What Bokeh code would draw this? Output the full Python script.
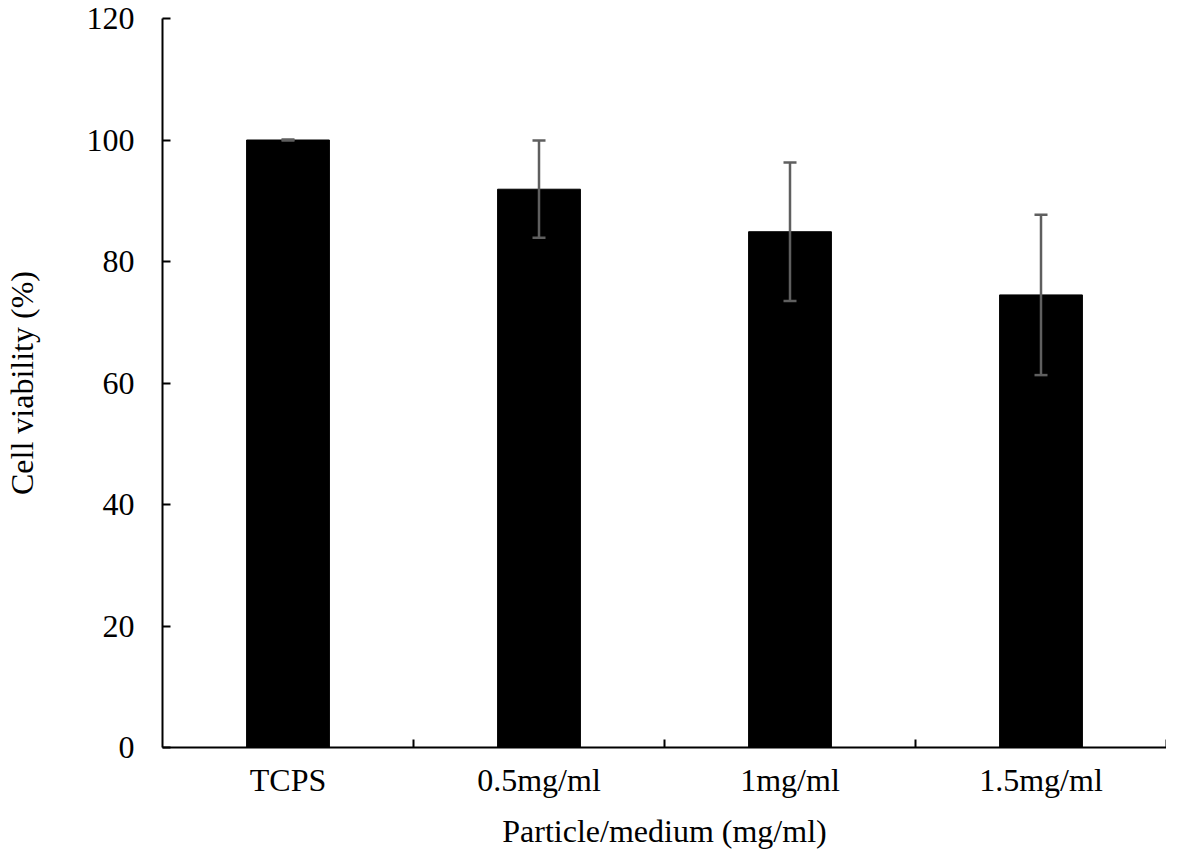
from bokeh.plotting import figure
from bokeh.models import ColumnDataSource, FixedTicker, Whisker, TeeHead, Range1d
from bokeh.embed import file_html
from bokeh.resources import INLINE

categories = ["TCPS", "0.5mg/ml", "1mg/ml", "1.5mg/ml"]
viability = [100.0, 91.9, 84.9, 74.5]
sd = [0.1, 8.0, 11.4, 13.2]
y_ticks = [0, 20, 40, 60, 80, 100, 120]

xs = [i + 0.5 for i in range(len(categories))]
src = ColumnDataSource(dict(
    x=xs, top=viability,
    upper=[v + s for v, s in zip(viability, sd)],
    lower=[v - s for v, s in zip(viability, sd)],
))

FONT = "Liberation Serif"
FS = "32px"

p = figure(width=1166, height=851, output_backend="svg", toolbar_location=None,
           x_range=Range1d(0, len(categories)), y_range=Range1d(0, 120),
           min_border_left=155, min_border_right=0, min_border_top=18, min_border_bottom=100)
p.outline_line_color = None
p.xgrid.visible = False
p.ygrid.visible = False
p.background_fill_color = "white"
p.border_fill_color = "white"

p.vbar(x="x", top="top", width=0.33, bottom=0, source=src,
       fill_color="black", line_color="black", line_width=1)

w = Whisker(base="x", upper="upper", lower="lower", source=src, level="overlay",
            line_color="#5f5f5f", line_width=2.5,
            upper_head=TeeHead(size=13, line_color="#5f5f5f", line_width=2.5),
            lower_head=TeeHead(size=13, line_color="#5f5f5f", line_width=2.5))
p.add_layout(w)

# x axis
p.xaxis.ticker = FixedTicker(ticks=xs, minor_ticks=list(range(1, len(categories) + 1)))
p.xaxis.major_label_overrides = {x: c for x, c in zip(xs, categories)}
p.xaxis.major_tick_in = 0
p.xaxis.major_tick_out = 0
p.xaxis.minor_tick_in = 8
p.xaxis.minor_tick_out = 0
p.xaxis.minor_tick_line_color = "black"
p.xaxis.minor_tick_line_width = 2
p.xaxis.axis_label = "Particle/medium (mg/ml)"
p.xaxis.major_label_standoff = 14
p.xaxis.axis_label_standoff = 12

# y axis
p.yaxis.ticker = FixedTicker(ticks=y_ticks, minor_ticks=[])
p.yaxis.major_tick_in = 8
p.yaxis.major_tick_out = 0
p.yaxis.axis_label = "Cell viability (%)"
p.yaxis.major_label_standoff = 28
p.yaxis.axis_label_standoff = 44

for ax in (p.xaxis[0], p.yaxis[0]):
    ax.axis_line_color = "black"
    ax.axis_line_width = 2
    ax.major_tick_line_color = "black"
    ax.major_tick_line_width = 2
    ax.major_label_text_font = FONT
    ax.major_label_text_font_size = FS
    ax.major_label_text_color = "black"
    ax.axis_label_text_font = FONT
    ax.axis_label_text_font_size = FS
    ax.axis_label_text_font_style = "normal"
    ax.axis_label_text_color = "black"

open("out.html", "w").write(file_html(p, INLINE))
